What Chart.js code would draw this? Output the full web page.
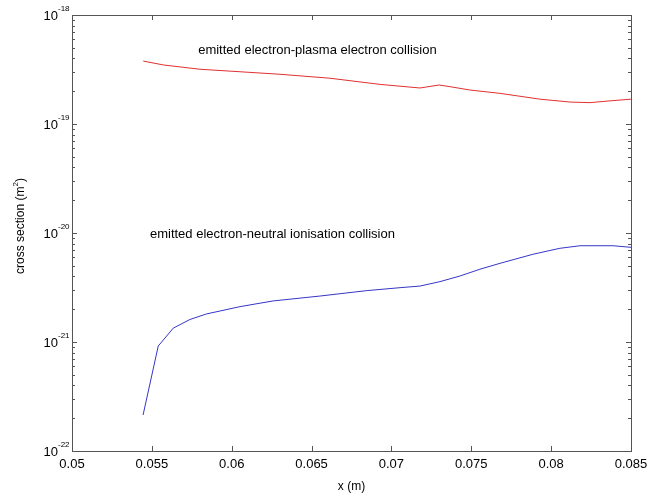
<!DOCTYPE html>
<html>
<head>
<meta charset="utf-8">
<script src="https://cdn.jsdelivr.net/npm/chart.js@4.4.1/dist/chart.umd.min.js"></script>
<style>
  html, body { margin: 0; padding: 0; background: #fff; }
  #wrap { width: 650px; height: 499px; position: relative; }
</style>
</head>
<body>
<div id="wrap"><canvas id="chart"></canvas></div>
<script>
// ---- data ----
const plasmaX = [0.05446, 0.05572, 0.05801, 0.06302, 0.06615, 0.06928, 0.07179, 0.07298, 0.07367, 0.07492, 0.07680, 0.07930, 0.08118, 0.08243, 0.08368, 0.085];
const plasmaY = [3.78e-19, 3.48e-19, 3.18e-19, 2.86e-19, 2.63e-19, 2.31e-19, 2.14e-19, 2.28e-19, 2.20e-19, 2.05e-19, 1.91e-19, 1.69e-19, 1.59e-19, 1.57e-19, 1.63e-19, 1.69e-19];

const neutralX = [0.05445, 0.05540, 0.05634, 0.05739, 0.05843, 0.06052, 0.06258, 0.06553, 0.06845, 0.07054, 0.07179, 0.07304, 0.07429, 0.07554, 0.07680, 0.07886, 0.08055, 0.08181, 0.08387, 0.085];
const neutralY = [2.14e-22, 9.18e-22, 1.34e-21, 1.61e-21, 1.81e-21, 2.11e-21, 2.38e-21, 2.64e-21, 2.96e-21, 3.15e-21, 3.26e-21, 3.58e-21, 4.03e-21, 4.65e-21, 5.27e-21, 6.38e-21, 7.24e-21, 7.64e-21, 7.64e-21, 7.39e-21];

const xTicks = [0.05, 0.055, 0.06, 0.065, 0.07, 0.075, 0.08, 0.085];
const xTickLabels = ["0.05", "0.055", "0.06", "0.065", "0.07", "0.075", "0.08", "0.085"];
const yDecades = [-22, -21, -20, -19, -18];

// text annotations, placed in data coordinates
const notes = [
  { text: "emitted electron-plasma electron collision", x: 0.0579, y: 4.77e-19 },
  { text: "emitted electron-neutral ionisation collision", x: 0.05488, y: 9.8e-21 }
];

function toPoints(xs, ys) {
  return xs.map((x, i) => ({ x: x, y: ys[i] }));
}

const FONT = '"Liberation Sans", Arial, sans-serif';

// frame, inward ticks, tick labels, titles and notes (matlab style)
const axesPlugin = {
  id: 'matlabAxes',
  afterDraw(chart) {
    const ctx = chart.ctx;
    const xs = chart.scales.x, ys = chart.scales.y;
    const a = chart.chartArea;
    ctx.save();
    ctx.strokeStyle = '#555';
    ctx.lineWidth = 1;
    ctx.strokeRect(a.left + 0.5, a.top + 0.5, a.right - a.left, a.bottom - a.top);

    ctx.beginPath();
    // x ticks, bottom and top
    xTicks.forEach(v => {
      const px = Math.round(xs.getPixelForValue(v)) + 0.5;
      ctx.moveTo(px, a.bottom); ctx.lineTo(px, a.bottom - 5);
      ctx.moveTo(px, a.top); ctx.lineTo(px, a.top + 5);
    });
    // y ticks, major and minor, left and right
    for (let d = -22; d < -18; d++) {
      for (let m = 1; m < 10; m++) {
        const py = Math.round(ys.getPixelForValue(m * Math.pow(10, d))) + 0.5;
        const len = m === 1 ? 5 : 3;
        ctx.moveTo(a.left, py); ctx.lineTo(a.left + len, py);
        ctx.moveTo(a.right, py); ctx.lineTo(a.right - len, py);
      }
    }
    ctx.stroke();

    ctx.fillStyle = '#000';
    ctx.font = '13px ' + FONT;
    ctx.textAlign = 'center';
    ctx.textBaseline = 'middle';
    xTicks.forEach((v, i) => {
      ctx.fillText(xTickLabels[i], xs.getPixelForValue(v), a.bottom + 13);
    });

    yDecades.forEach(d => {
      const py = ys.getPixelForValue(Math.pow(10, d));
      ctx.font = '13px ' + FONT;
      ctx.textAlign = 'right';
      ctx.textBaseline = 'middle';
      ctx.fillText('10', a.left - 14, py + 1);
      ctx.font = '8px ' + FONT;
      ctx.textAlign = 'left';
      ctx.fillText(String(d), a.left - 14, py - 6);
    });

    // axis titles
    ctx.font = '12px ' + FONT;
    ctx.textAlign = 'center';
    ctx.textBaseline = 'middle';
    ctx.fillText('x (m)', (a.left + a.right) / 2, 487);

    ctx.save();
    ctx.translate(21, 226);
    ctx.rotate(-Math.PI / 2);
    const t1 = 'cross section (m';
    const w1 = ctx.measureText(t1).width;
    ctx.font = '8px ' + FONT;
    const w2 = ctx.measureText('2').width;
    ctx.font = '12px ' + FONT;
    const w3 = ctx.measureText(')').width;
    let sx = -(w1 + w2 + w3) / 2;
    ctx.textAlign = 'left';
    ctx.fillText(t1, sx, 0);
    ctx.font = '8px ' + FONT;
    ctx.fillText('2', sx + w1, -5);
    ctx.font = '12px ' + FONT;
    ctx.fillText(')', sx + w1 + w2, 0);
    ctx.restore();

    // notes
    ctx.font = '13px ' + FONT;
    ctx.textAlign = 'left';
    ctx.textBaseline = 'middle';
    notes.forEach(n => {
      ctx.fillText(n.text, xs.getPixelForValue(n.x), ys.getPixelForValue(n.y));
    });
    ctx.restore();
  }
};

new Chart(document.getElementById('chart').getContext('2d'), {
  type: 'line',
  data: {
    datasets: [
      { label: 'plasma', data: toPoints(plasmaX, plasmaY), borderColor: '#e03030', borderWidth: 1, pointRadius: 0, fill: false, tension: 0 },
      { label: 'neutral', data: toPoints(neutralX, neutralY), borderColor: '#3535c8', borderWidth: 1, pointRadius: 0, fill: false, tension: 0 }
    ]
  },
  options: {
    responsive: true,
    maintainAspectRatio: false,
    animation: false,
    layout: { padding: { left: 72, right: 19, top: 15, bottom: 48 } },
    plugins: { legend: { display: false }, tooltip: { enabled: false } },
    scales: {
      x: {
        type: 'linear', min: 0.05, max: 0.085,
        grid: { display: false, drawTicks: false },
        border: { display: false },
        ticks: { display: false }
      },
      y: {
        type: 'logarithmic', min: 1e-22, max: 1e-18,
        grid: { display: false, drawTicks: false },
        border: { display: false },
        ticks: { display: false }
      }
    }
  },
  plugins: [axesPlugin]
});
</script>
</body>
</html>
